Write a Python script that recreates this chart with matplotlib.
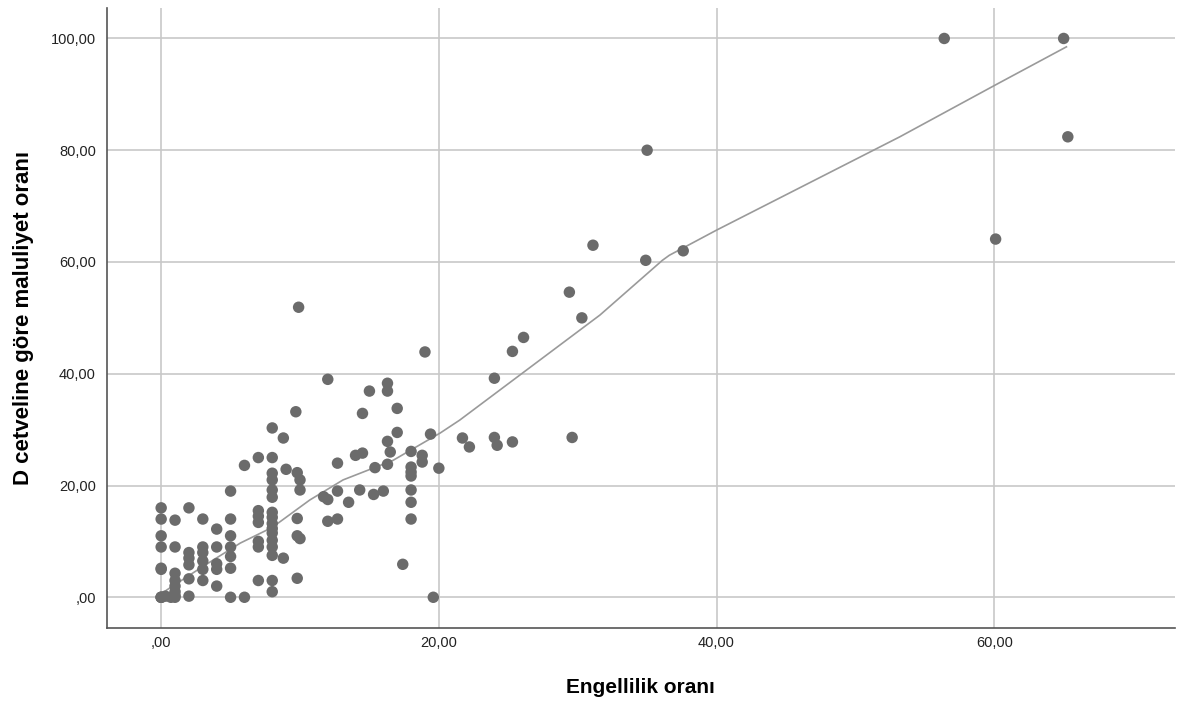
import matplotlib.pyplot as plt
from matplotlib.ticker import FuncFormatter

plt.rcParams['font.family'] = ['Liberation Sans', 'DejaVu Sans']

# Engellilik orani (x) / D cetveline gore maluliyet orani (y)
engellilik = [0, 0, 0, 0, 0, 0, 0, 0, 0, 0.3,
              0.7, 1, 1, 1, 1, 1, 1, 1, 1,
              2, 2, 2, 2, 2, 2,
              3, 3, 3, 3, 3, 3,
              4, 4, 4, 4, 4,
              5, 5, 5, 5, 5, 5, 5,
              6, 6,
              7, 7, 7, 7, 7, 7, 7,
              8, 8, 8, 8, 8, 8, 8, 8, 8, 8, 8, 8, 8, 8, 8, 8,
              8.8, 9, 8.8,
              9.9, 9.7, 9.8, 10, 10, 9.8, 9.8, 10, 9.8,
              12, 11.7, 12, 12, 12.7, 12.7, 12.7, 13.5,
              14, 14.5, 14.5, 14.3, 15, 15.4, 15.3,
              16.3, 16.3, 16.3, 16.5, 16.3, 16, 17, 17, 17.4,
              18, 18, 18, 18, 18, 18, 18, 18.8, 18.8, 19, 19.4, 19.6, 20,
              21.7, 22.2, 24, 24, 24.2, 25.3, 25.3, 26.1, 29.4, 29.6, 30.3,
              31.1, 34.9, 35, 37.6,
              56.4, 60.1, 65, 65.3]
maluliyet = [16, 14, 11, 9, 5.2, 5, 0, 0, 0, 0.2,
             0, 0, 0.3, 1, 2, 3, 4.3, 13.8, 9,
             16, 8, 7, 5.8, 3.3, 0.2,
             14, 9, 8, 6.5, 5, 3,
             12.2, 9, 6, 5, 2,
             19, 14, 11, 9, 7.3, 5.2, 0,
             23.6, 0,
             25, 15.5, 14.5, 13.4, 10, 9, 3,
             30.3, 25, 22.2, 21, 19.2, 17.9, 15.2, 14.3, 13.2, 12.3, 11.5, 10.2, 9, 7.5, 3, 1,
             28.5, 22.9, 7,
             51.9, 33.2, 22.3, 21, 19.2, 14.1, 11, 10.5, 3.4,
             39, 18, 17.5, 13.6, 24, 19, 14, 17,
             25.4, 25.8, 32.9, 19.2, 36.9, 23.2, 18.4,
             38.3, 36.9, 27.9, 26, 23.8, 19, 33.8, 29.5, 5.9,
             26.1, 23.3, 22.4, 21.7, 19.2, 17, 14, 25.4, 24.2, 43.9, 29.2, 0, 23.1,
             28.5, 26.9, 39.2, 28.6, 27.2, 44, 27.8, 46.5, 54.6, 28.6, 50,
             63, 60.3, 80, 62,
             100, 64.1, 100, 82.4]

# fit line
fit_x = [0, 0.4, 3, 5.7, 8, 10.7, 13.1, 16.7, 20.1, 21.5, 31.6, 36.1, 36.6, 40, 53.2, 60.1, 65.2]
fit_y = [0.5, 1.3, 5.5, 9.7, 12.5, 17.4, 21, 24.5, 29.4, 31.7, 50.5, 60.3, 61.2, 65.7, 82.4, 91.7, 98.5]

xticks = [0, 20, 40, 60]
yticks = [0, 20, 40, 60, 80, 100]


def spss_fmt(v, pos):
    s = '%.2f' % v
    s = s.replace('.', ',')
    if s.startswith('0,'):
        s = s[1:]
    return s


fig = plt.figure(figsize=(11.89, 7.02), dpi=100)
ax = fig.add_axes([0.09, 0.1054, 0.898, 0.8836])

ax.plot(fit_x, fit_y, color='#9a9a9a', lw=1.2, zorder=2)
ax.scatter(engellilik, maluliyet, s=68, color='#6b6b6b', edgecolors='none', zorder=3)

ax.set_xlim(-3.9, 73)
ax.set_ylim(-5.5, 105.5)
ax.set_xticks(xticks)
ax.set_yticks(yticks)
ax.xaxis.set_major_formatter(FuncFormatter(spss_fmt))
ax.yaxis.set_major_formatter(FuncFormatter(spss_fmt))
ax.grid(True, color='#c8c8c8', lw=1.2, zorder=0)
ax.set_axisbelow(True)
ax.tick_params(length=0, labelsize=10.5, colors='#222222')
ax.tick_params(axis='x', pad=6)
ax.tick_params(axis='y', pad=8)

for side in ['top', 'right']:
    ax.spines[side].set_visible(False)
for side in ['left', 'bottom']:
    ax.spines[side].set_color('#555555')
    ax.spines[side].set_linewidth(1.2)

ax.set_xlabel('Engellilik oranı', fontsize=15, fontweight='bold', labelpad=20)
ax.set_ylabel('D cetveline göre maluliyet oranı', fontsize=16, fontweight='bold', labelpad=12)

plt.savefig('out.png', dpi=100)
